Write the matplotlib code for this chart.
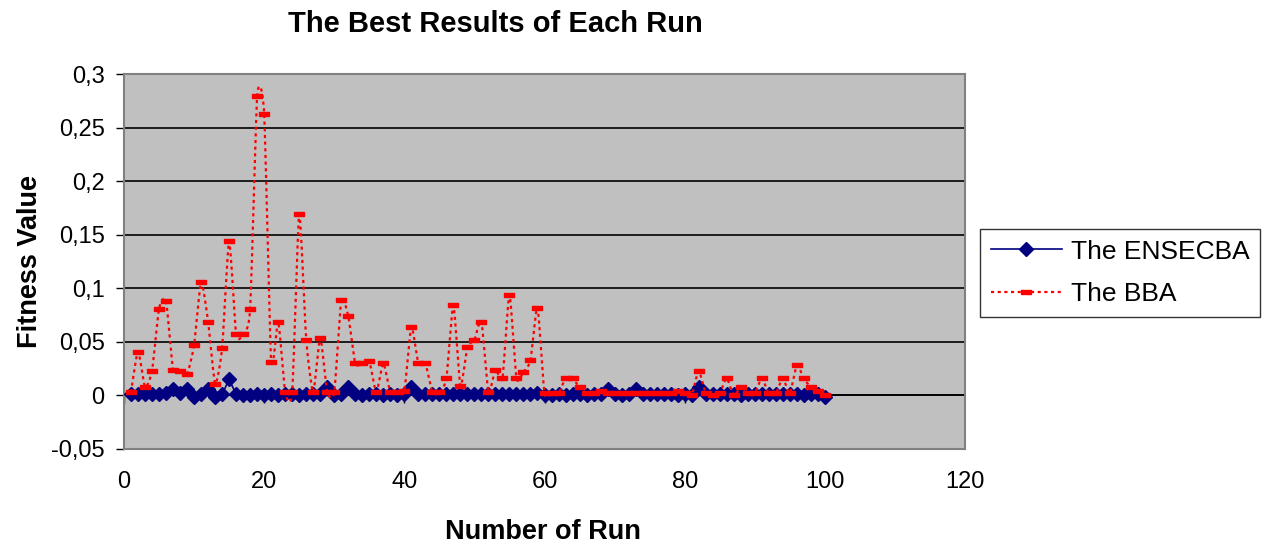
import numpy as np
import matplotlib
matplotlib.use("Agg")
import matplotlib.pyplot as plt
from matplotlib.ticker import FuncFormatter

plt.rcParams['font.family'] = ['Liberation Sans', 'DejaVu Sans']

# run number 1..100
runs = list(range(1, 101))

# best fitness of each run, ENSECBA
ensecba = [0.001, 0.001, 0.001, 0.001, 0.001, 0.002, 0.006, 0.002, 0.006, -0.001,
           0.001, 0.006, -0.001, 0.001, 0.015, 0.001, 0.000, 0.000, 0.001, 0.000,
           0.001, 0.000, 0.001, 0.001, 0.000, 0.001, 0.001, 0.001, 0.008, 0.000,
           0.001, 0.008, 0.001, 0.000, 0.001, 0.001, 0.000, 0.001, 0.000, 0.001,
           0.008, 0.001, 0.001, 0.001, 0.001, 0.001, 0.001, 0.001, 0.001, 0.001,
           0.001, 0.001, 0.001, 0.001, 0.001, 0.001, 0.001, 0.001, 0.002, 0.000,
           0.000, 0.001, 0.000, 0.001, 0.001, 0.000, 0.001, 0.001, 0.006, 0.001,
           0.000, 0.001, 0.006, 0.001, 0.001, 0.001, 0.001, 0.001, 0.000, 0.001,
           0.000, 0.008, 0.001, 0.001, 0.001, 0.001, 0.001, 0.000, 0.001, 0.001,
           0.001, 0.001, 0.001, 0.001, 0.001, 0.001, 0.000, 0.001, 0.001, -0.001]

# best fitness of each run, BBA
bba = [0.003, 0.041, 0.008, 0.023, 0.081, 0.088, 0.024, 0.023, 0.020, 0.047,
       0.106, 0.069, 0.011, 0.044, 0.144, 0.057, 0.057, 0.081, 0.279, 0.263,
       0.031, 0.069, 0.003, 0.003, 0.169, 0.052, 0.003, 0.054, 0.003, 0.003,
       0.089, 0.074, 0.030, 0.030, 0.032, 0.003, 0.030, 0.003, 0.003, 0.004,
       0.064, 0.030, 0.030, 0.003, 0.003, 0.016, 0.084, 0.009, 0.045, 0.052,
       0.069, 0.003, 0.024, 0.016, 0.094, 0.016, 0.022, 0.033, 0.082, 0.002,
       0.002, 0.002, 0.016, 0.016, 0.0075, 0.002, 0.002, 0.004, 0.002, 0.002,
       0.002, 0.002, 0.002, 0.002, 0.002, 0.002, 0.002, 0.002, 0.004, 0.002,
       0.000, 0.023, 0.002, 0.000, 0.002, 0.016, 0.000, 0.0075, 0.002, 0.002,
       0.016, 0.002, 0.002, 0.016, 0.002, 0.028, 0.016, 0.0075, 0.004, 0.000]

x_ticks = [0, 20, 40, 60, 80, 100, 120]
y_ticks = [-0.05, 0, 0.05, 0.1, 0.15, 0.2, 0.25, 0.3]


def smooth_path(xs, ys, steps=16, k=10.0):
    # bezier smoothing through every point (spreadsheet style "smoothed line")
    pts = np.column_stack([xs, ys]).astype(float)
    padded = np.vstack([pts[0], pts, pts[-1]])
    t = np.linspace(0, 1, steps, endpoint=False)[:, None]
    segs = []
    for i in range(len(pts) - 1):
        p0, p1, p2, p3 = padded[i], padded[i + 1], padded[i + 2], padded[i + 3]
        c1 = p1 + (p2 - p0) / k
        c2 = p2 - (p3 - p1) / k
        segs.append((1 - t) ** 3 * p1 + 3 * (1 - t) ** 2 * t * c1
                    + 3 * (1 - t) * t ** 2 * c2 + t ** 3 * p2)
    segs.append(pts[-1:])
    out = np.vstack(segs)
    return out[:, 0], out[:, 1]


W, H = 1270, 547
fig = plt.figure(figsize=(W / 100, H / 100), dpi=100)
ax = fig.add_axes([124 / W, 1 - 449 / H, (965 - 124) / W, (449 - 74) / H])
ax.set_facecolor('#C0C0C0')
for s in ax.spines.values():
    s.set_color('#808080')
    s.set_linewidth(1.5)

ax.set_xlim(0, 120)
ax.set_ylim(-0.05, 0.3)
ax.set_yticks(y_ticks)
ax.set_xticks(x_ticks)
ax.yaxis.grid(True, color='black', linewidth=1.2)
ax.set_axisbelow(True)

ax.yaxis.set_major_formatter(FuncFormatter(lambda v, p: ('%g' % round(v, 3)).replace('.', ',')))
ax.tick_params(axis='y', direction='out', length=6, width=1, color='black',
               labelsize=17, pad=8)
ax.tick_params(axis='x', length=0, labelsize=17, pad=16)

# category axis crosses at zero
ax.axhline(0, color='black', linewidth=1.2, zorder=1)
ax.plot(x_ticks[:-1], [0] * (len(x_ticks) - 1), ls='', marker=3, ms=6,
        color='black', clip_on=False, zorder=1)

dash_marker = [(-1, -0.42), (1, -0.42), (1, 0.42), (-1, 0.42), (-1, -0.42)]

ax.plot(runs, ensecba, color='#000080', linewidth=1.2, marker='D', ms=7.5,
        markerfacecolor='#000080', markeredgecolor='#000080', zorder=3,
        label='The ENSECBA')

sx, sy = smooth_path(runs, bba)
ax.plot(sx, sy, color='#FF0000', linewidth=1.6, linestyle=(0, (1.4, 1.6)), zorder=4)
ax.plot(runs, bba, ls='', marker=dash_marker, ms=7, color='#FF0000', zorder=5)
# legend proxy for the dotted series
bba_handle, = ax.plot([], [], color='#FF0000', linewidth=1.6, linestyle=(0, (1.4, 1.6)),
                      marker=dash_marker, ms=7, label='The BBA')

fig.text(495 / W, 1 - 24 / H, 'The Best Results of Each Run', fontsize=21,
         fontweight='bold', ha='center', va='center')
fig.text(543 / W, 1 - 532 / H, 'Number of Run', fontsize=19.5,
         fontweight='bold', ha='center', va='center')
fig.text(30 / W, 1 - 262 / H, 'Fitness Value', fontsize=19.5, fontweight='bold',
         ha='center', va='center', rotation=90)

leg = fig.legend(loc='upper left', bbox_to_anchor=(980 / W, 1 - 229 / H),
                 fontsize=19, frameon=True, fancybox=False, handlelength=2.7,
                 labelspacing=0.7, borderpad=0.4, handletextpad=0.35,
                 borderaxespad=0)
leg.get_frame().set_edgecolor('black')
leg.get_frame().set_linewidth(1.0)

fig.savefig('out.png', dpi=100, facecolor='white')
